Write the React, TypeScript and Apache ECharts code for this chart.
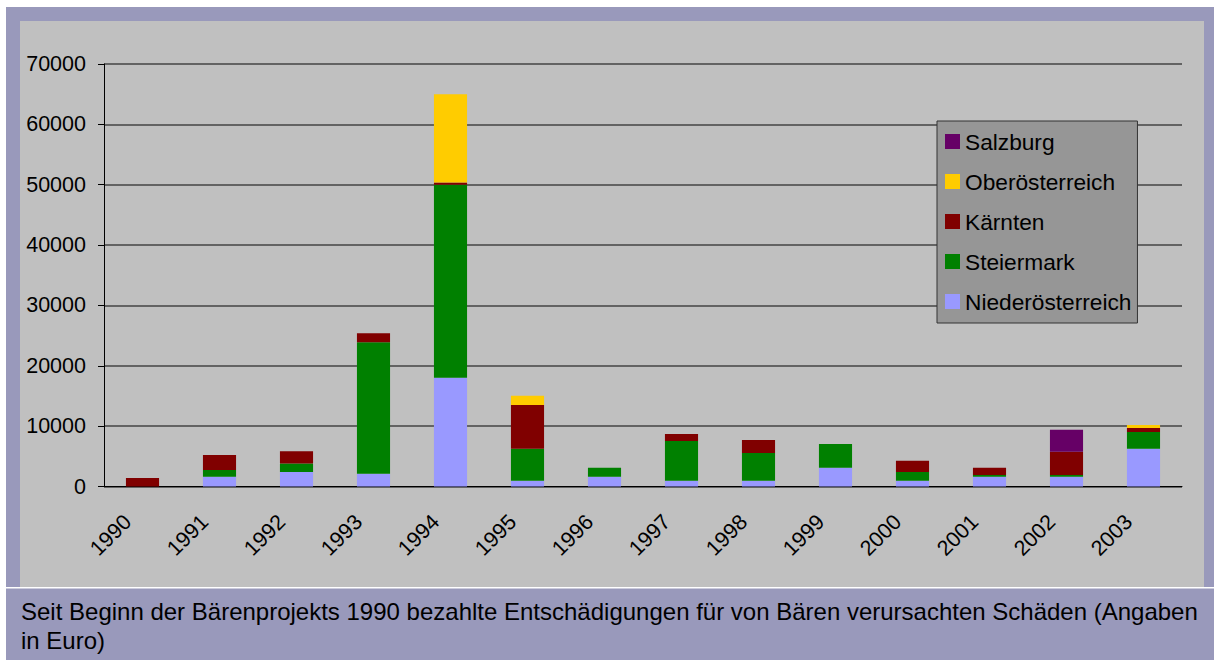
import React, { useEffect, useRef } from "react";
import * as echarts from "echarts";

const years = ["1990", "1991", "1992", "1993", "1994", "1995", "1996", "1997", "1998", "1999", "2000", "2001", "2002", "2003"];
const niederoesterreich = [0, 1600, 2400, 2100, 18000, 950, 1600, 950, 950, 3100, 950, 1600, 1600, 6250];
const steiermark = [0, 1150, 1400, 21800, 32000, 5300, 1500, 6600, 4600, 3950, 1450, 300, 300, 2800];
const kaernten = [1400, 2450, 2050, 1500, 350, 7250, 0, 1150, 2150, 0, 1850, 1200, 3850, 650];
const oberoesterreich = [0, 0, 0, 0, 14650, 1550, 0, 0, 0, 0, 0, 0, 0, 500];
const salzburg = [0, 0, 0, 0, 0, 0, 0, 0, 0, 0, 0, 0, 3650, 0];
const legendOrder = ["Salzburg", "Oberösterreich", "Kärnten", "Steiermark", "Niederösterreich"];
const caption = "Seit Beginn der Bärenprojekts 1990 bezahlte Entschädigungen für von Bären verursachten Schäden (Angaben\nin Euro)";

const FONT = "'Liberation Sans', Arial, sans-serif";

export default function App() {
  const ref = useRef<HTMLDivElement>(null);
  useEffect(() => {
    if (!ref.current) return;
    const chart = echarts.init(ref.current, undefined, { renderer: "svg" });
    const seriesDefs = [
      { name: "Niederösterreich", data: niederoesterreich, color: "#9999ff" },
      { name: "Steiermark", data: steiermark, color: "#008000" },
      { name: "Kärnten", data: kaernten, color: "#800000" },
      { name: "Oberösterreich", data: oberoesterreich, color: "#ffcc00" },
      { name: "Salzburg", data: salzburg, color: "#660066" },
    ];
    chart.setOption({
      animation: false,
      textStyle: { fontFamily: FONT },
      graphic: [
        { type: "rect", z: -10, silent: true, shape: { x: 6, y: 7, width: 1208, height: 653 }, style: { fill: "#9999bb" } },
        { type: "rect", z: -9, silent: true, shape: { x: 20, y: 21, width: 1184, height: 566 }, style: { fill: "#c0c0c0" } },
        { type: "rect", z: -9, silent: true, shape: { x: 6, y: 587, width: 1208, height: 1.5 }, style: { fill: "#ffffff" } },
        {
          type: "text",
          z: 5,
          left: 21,
          top: 597,
          style: { text: caption, fontSize: 24, lineHeight: 29, fontFamily: FONT, fill: "#000" },
        },
      ],
      grid: { left: 104, right: 32, top: 64, bottom: 173.5, containLabel: false },
      legend: {
        data: legendOrder,
        orient: "vertical",
        left: 937,
        top: 121,
        itemWidth: 15,
        itemHeight: 15,
        itemGap: 17,
        padding: [9, 6, 10, 8],
        backgroundColor: "#969696",
        borderColor: "#333333",
        borderWidth: 1,
        textStyle: { fontSize: 22.7, lineHeight: 22, color: "#000", fontFamily: FONT },
        icon: "rect",
      },
      xAxis: {
        type: "category",
        data: years,
        axisLine: { lineStyle: { color: "#000", width: 1 } },
        axisTick: { length: 6, lineStyle: { color: "#000" } },
        axisLabel: { rotate: 45, fontSize: 21.5, color: "#000", margin: 17, padding: [0, 21, 0, 0], fontFamily: FONT },
        splitLine: { show: false },
      },
      yAxis: {
        type: "value",
        min: 0,
        max: 70000,
        interval: 10000,
        axisLine: { show: true, lineStyle: { color: "#000", width: 1 } },
        axisTick: { show: true, length: 6, lineStyle: { color: "#000" } },
        axisLabel: { fontSize: 21.5, color: "#000", margin: 18, fontFamily: FONT, formatter: (v: number) => String(v) },
        splitLine: { show: true, lineStyle: { color: "#454545", width: 1.5 } },
      },
      series: seriesDefs.map((s) => ({
        name: s.name,
        type: "bar",
        stack: "total",
        data: s.data,
        barWidth: "43%",
        itemStyle: { color: s.color },
        emphasis: { disabled: true },
      })),
    });
    return () => chart.dispose();
  }, []);
  return <div ref={ref} style={{ position: "fixed", left: 0, top: 0, width: 1214, height: 660, background: "#ffffff" }} />;
}
